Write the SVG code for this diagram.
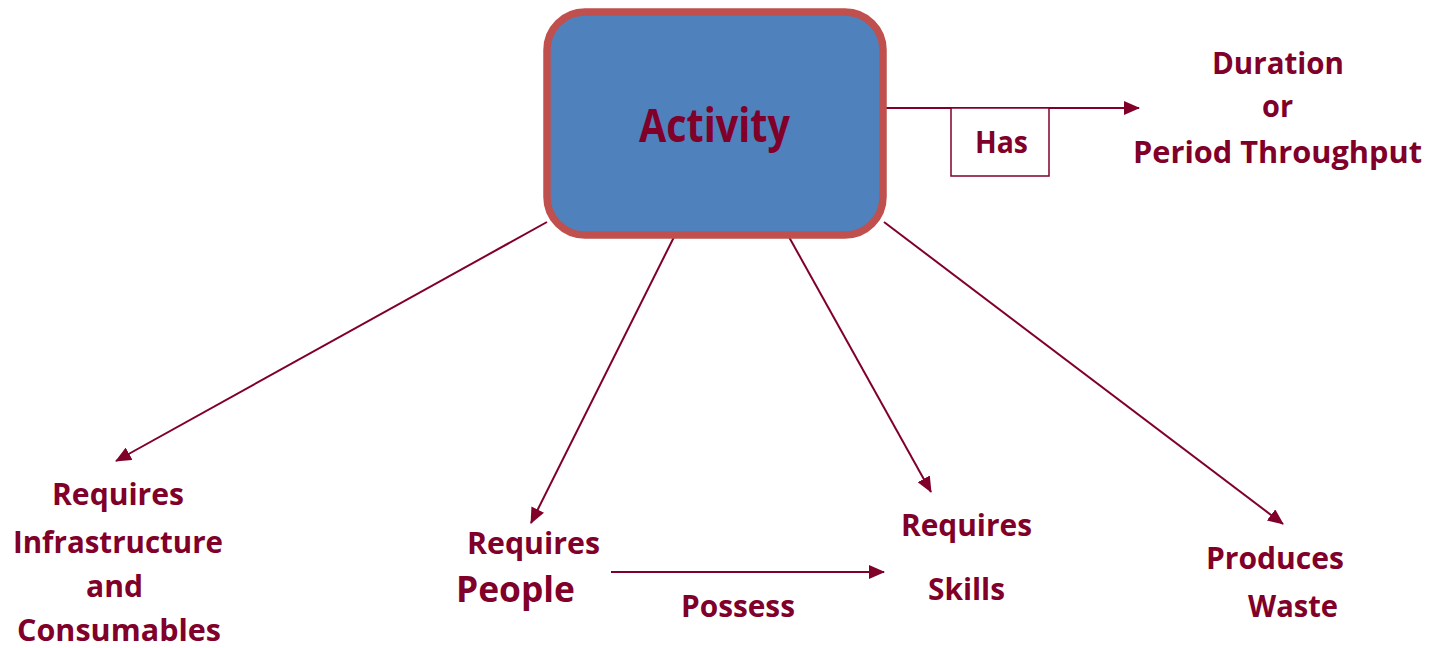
<svg xmlns="http://www.w3.org/2000/svg" width="1430" height="648" viewBox="0 0 1430 648">
<style>
.t{font-family:"Open Sans",Lato,"Liberation Sans",sans-serif;font-weight:700;fill:#80002A;font-size:30px}
.big{font-size:46px}
.ppl{font-size:36px}
.c{stroke:#80002A;stroke-width:2;fill:none}
</style>
<defs>
<marker id="ah" markerUnits="userSpaceOnUse" markerWidth="16" markerHeight="14" refX="15" refY="7" orient="auto">
<path d="M0,0 L16,7 L0,14 Z" fill="#80002A"/>
</marker>
</defs>
<rect width="1430" height="648" fill="#fff"/>
<g id="connectors">
<line class="c" x1="884" y1="108" x2="1139" y2="108" marker-end="url(#ah)"/>
<line class="c" x1="547" y1="222" x2="116" y2="461" marker-end="url(#ah)"/>
<line class="c" x1="674" y1="237" x2="531" y2="523" marker-end="url(#ah)"/>
<line class="c" x1="789" y1="237" x2="931" y2="492" marker-end="url(#ah)"/>
<line class="c" x1="884" y1="222" x2="1283" y2="524" marker-end="url(#ah)"/>
<line class="c" x1="611" y1="572" x2="884" y2="572" marker-end="url(#ah)"/>
</g>
<g id="activity">
<rect x="547" y="12" width="336" height="223" rx="38" fill="#4F81BD" stroke="#C0504D" stroke-width="7.5"/>
<text class="t big" x="639" y="142" textLength="151" lengthAdjust="spacingAndGlyphs">Activity</text>
</g>
<g id="has">
<rect x="951" y="108" width="98" height="68" fill="#fff" stroke="#80002A" stroke-width="1.5"/>
<text class="t" x="975" y="153" textLength="53" lengthAdjust="spacingAndGlyphs">Has</text>
</g>
<g id="duration">
<text class="t" x="1212" y="74" textLength="132" lengthAdjust="spacingAndGlyphs">Duration</text>
<text class="t" x="1262" y="117" textLength="31" lengthAdjust="spacingAndGlyphs">or</text>
<text class="t" x="1133" y="163" textLength="289" lengthAdjust="spacingAndGlyphs">Period Throughput</text>
</g>
<g id="infrastructure">
<text class="t" x="52" y="505" textLength="132" lengthAdjust="spacingAndGlyphs">Requires</text>
<text class="t" x="13" y="553" textLength="210" lengthAdjust="spacingAndGlyphs">Infrastructure</text>
<text class="t" x="86" y="597" textLength="57" lengthAdjust="spacingAndGlyphs">and</text>
<text class="t" x="17" y="641" textLength="204" lengthAdjust="spacingAndGlyphs">Consumables</text>
</g>
<g id="people">
<text class="t" x="467" y="554" textLength="133" lengthAdjust="spacingAndGlyphs">Requires</text>
<text class="t ppl" x="456" y="602" textLength="119" lengthAdjust="spacingAndGlyphs">People</text>
</g>
<g id="possess-label">
<text class="t" x="681" y="617" textLength="114" lengthAdjust="spacingAndGlyphs">Possess</text>
</g>
<g id="skills">
<text class="t" x="901" y="536" textLength="131" lengthAdjust="spacingAndGlyphs">Requires</text>
<text class="t" x="928" y="600" textLength="77" lengthAdjust="spacingAndGlyphs">Skills</text>
</g>
<g id="waste">
<text class="t" x="1206" y="569" textLength="138" lengthAdjust="spacingAndGlyphs">Produces</text>
<text class="t" x="1248" y="617" textLength="90" lengthAdjust="spacingAndGlyphs">Waste</text>
</g>
</svg>
